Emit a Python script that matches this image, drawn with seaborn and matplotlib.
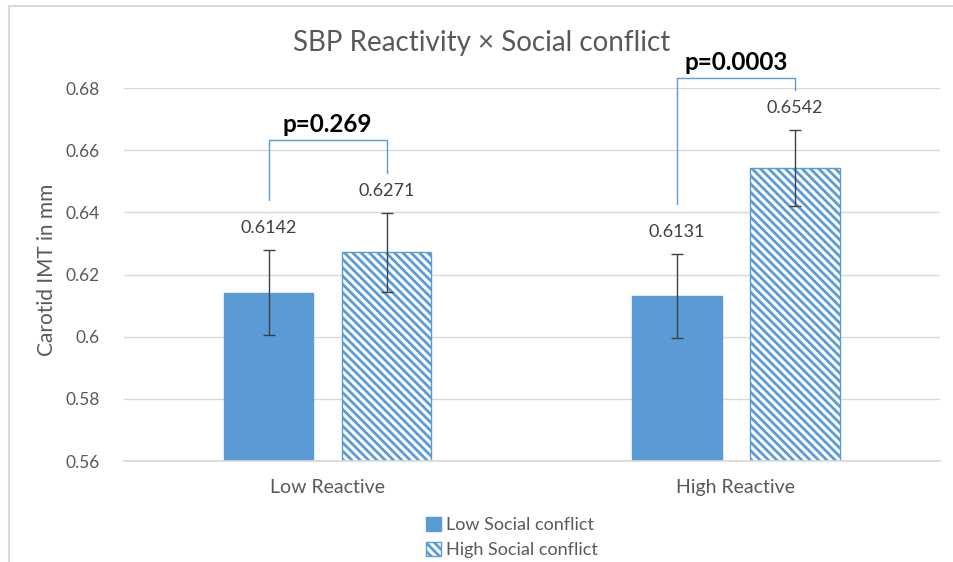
import numpy as np
import pandas as pd
import matplotlib.pyplot as plt
import seaborn as sns
from matplotlib.patches import Patch
from matplotlib.lines import Line2D

# Dados
grupos = ["Low Reactive", "High Reactive"]
conflito = ["Low Social conflict", "High Social conflict"]
imt_low_conf = [0.6142, 0.6131]
imt_high_conf = [0.6271, 0.6542]
erro_low_conf = [0.0137, 0.0136]
erro_high_conf = [0.0127, 0.0122]
p_valores = ["p=0.269", "p=0.0003"]
altura_colchete = [0.6633, 0.6832]

azul = "#5B9BD5"
cinza = "#595959"

sns.set_theme(style="white")
plt.rcParams["font.family"] = ["Lato", "DejaVu Sans"]
plt.rcParams["hatch.linewidth"] = 2.0

df = pd.DataFrame({
    "reatividade": grupos * 2,
    "conflito": [conflito[0]] * 2 + [conflito[1]] * 2,
    "imt": imt_low_conf + imt_high_conf,
})

fig = plt.figure(figsize=(9.54, 5.62), dpi=100)
ax = fig.add_axes([0.1295, 0.1797, 0.8558, 0.6637])

sns.barplot(data=df, x="reatividade", y="imt", hue="conflito", order=grupos,
            hue_order=conflito, palette=[azul, "white"], width=0.578, gap=0.24,
            saturation=1, errorbar=None, legend=False, ax=ax)

# Barras hachuradas
for barra in ax.containers[1]:
    barra.set_facecolor("white")
    barra.set_edgecolor(azul)
    barra.set_hatch("\\\\\\\\")
    barra.set_linewidth(1)
for barra in ax.containers[0]:
    barra.set_edgecolor(azul)

# Barras de erro e rotulos
centros = []
for cont, vals, errs in zip(ax.containers, [imt_low_conf, imt_high_conf],
                            [erro_low_conf, erro_high_conf]):
    xs = [b.get_x() + b.get_width() / 2 for b in cont]
    centros.append(xs)
    ax.errorbar(xs, vals, yerr=errs, fmt="none", ecolor="#404040",
                elinewidth=1, capsize=4.5, capthick=1, zorder=5)
    for x, v, e in zip(xs, vals, errs):
        ax.text(x, v + e + 0.0045, f"{v:.4f}", ha="center", va="bottom",
                fontsize=13, color="#404040")

# Colchetes com p-valores
for i in range(len(grupos)):
    x1, x2 = centros[0][i], centros[1][i]
    y1 = imt_low_conf[i] + erro_low_conf[i] + 0.0161
    y2 = imt_high_conf[i] + erro_high_conf[i] + 0.0129
    yt = altura_colchete[i]
    ax.plot([x1, x1, x2, x2], [y1, yt, yt, y2], color=azul, lw=1,
            clip_on=False, zorder=6)
    ax.text((x1 + x2) / 2, yt + 0.0012, p_valores[i], ha="center", va="bottom",
            fontsize=17.5, fontweight="bold", color="black")

ax.set_xlim(-0.5, 1.5)
ax.set_ylim(0.56, 0.68)
ax.set_yticks(np.arange(0.56, 0.681, 0.02))
ax.set_yticklabels(["0.56", "0.58", "0.6", "0.62", "0.64", "0.66", "0.68"])
ax.grid(axis="y", color="#D9D9D9", lw=1)
ax.set_axisbelow(True)
for lado in ["top", "right", "left"]:
    ax.spines[lado].set_visible(False)
ax.spines["bottom"].set_color("#D9D9D9")
ax.tick_params(axis="both", length=0, labelsize=12.5, labelcolor=cinza)
ax.tick_params(axis="x", labelsize=14, pad=13)
ax.tick_params(axis="y", pad=17)
ax.set_xlabel("")
ax.set_ylabel("")

fig.text(0.049, 0.52, "Carotid IMT in mm", rotation=90, ha="center",
         va="center", fontsize=15, color=cinza)
fig.text(0.505, 0.9235, "SBP Reactivity \u00d7 Social conflict", ha="center",
         va="center", fontsize=20, color=cinza)

# Legenda
alcas = [Patch(facecolor=azul, edgecolor=azul),
         Patch(facecolor="white", edgecolor=azul, hatch="\\\\\\\\")]
fig.legend(alcas, conflito, loc="center", bbox_to_anchor=(0.537, 0.0435),
           ncol=1, frameon=False, fontsize=13, handlelength=0.8,
           handleheight=0.8, handletextpad=0.3, labelspacing=0.5,
           labelcolor=cinza)

# Borda do grafico
fig.add_artist(Line2D([0.0094, 0.0094], [0, 0.989], color="#D9D9D9", lw=1.5))
fig.add_artist(Line2D([0.0094, 1], [0.989, 0.989], color="#D9D9D9", lw=1.5))

fig.savefig("out.png", dpi=100)
